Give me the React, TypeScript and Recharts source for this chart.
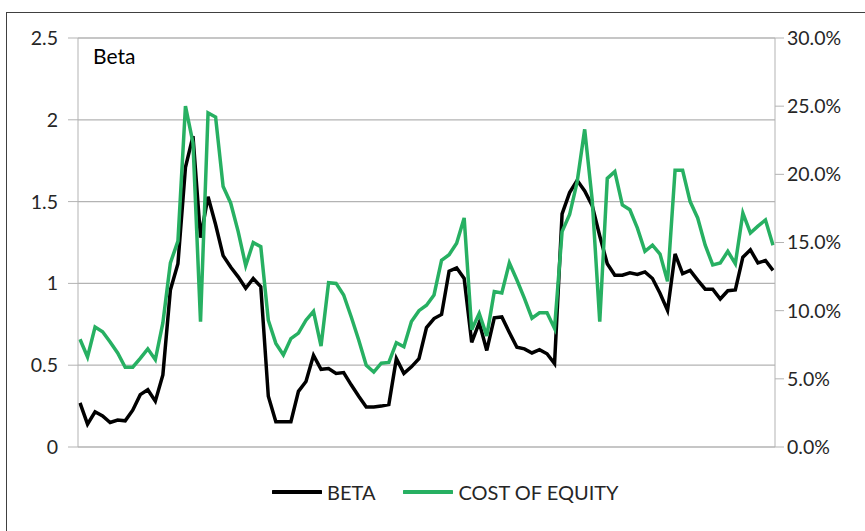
import { CartesianGrid, Legend, Line, LineChart, XAxis, YAxis } from 'recharts';

const beta = [
  0.27, 0.14, 0.215, 0.19, 0.15, 0.165, 0.16, 0.225, 0.32, 0.35,
  0.28, 0.44, 0.96, 1.12, 1.71, 1.9, 1.28, 1.53, 1.36, 1.17,
  1.1, 1.04, 0.97, 1.03, 0.98, 0.31, 0.155, 0.155, 0.155, 0.34,
  0.4, 0.56, 0.475, 0.48, 0.45, 0.455, 0.38, 0.31, 0.245, 0.245,
  0.25, 0.26, 0.54, 0.45, 0.49, 0.54, 0.73, 0.785, 0.81, 1.075,
  1.095, 1.03, 0.64, 0.76, 0.59, 0.79, 0.795, 0.7, 0.61, 0.6,
  0.575, 0.595, 0.57, 0.51, 1.425, 1.555, 1.63, 1.565, 1.475, 1.29,
  1.12, 1.05, 1.05, 1.065, 1.055, 1.07, 1.03, 0.94, 0.835, 1.18,
  1.06, 1.08, 1.02, 0.965, 0.965, 0.905, 0.955, 0.96, 1.16, 1.205,
  1.125, 1.14, 1.08,
];

// cost of equity, in percent
const costOfEquity = [
  7.9, 6.6, 8.8, 8.45, 7.7, 6.9, 5.85, 5.85, 6.5, 7.2,
  6.4, 9.1, 13.5, 15.1, 25.0, 22.3, 9.2, 24.5, 24.2, 19.1,
  17.9, 15.8, 13.3, 15.0, 14.7, 9.3, 7.6, 6.75, 7.95, 8.35,
  9.3, 9.95, 7.4, 12.05, 12.0, 11.15, 9.55, 7.85, 6.0, 5.5,
  6.15, 6.2, 7.65, 7.35, 9.2, 10.0, 10.4, 11.15, 13.7, 14.1,
  14.95, 16.8, 8.6, 9.8, 8.15, 11.4, 11.3, 13.5, 12.25, 10.9,
  9.45, 9.85, 9.85, 8.7, 15.8, 17.05, 19.45, 23.3, 18.1, 9.2,
  19.7, 20.2, 17.75, 17.4, 16.05, 14.35, 14.8, 14.15, 12.15, 20.3,
  20.3, 18.0, 16.8, 14.8, 13.35, 13.5, 14.35, 13.45, 17.15, 15.7,
  16.2, 16.65, 14.8,
];

const betaTicks = [0, 0.5, 1, 1.5, 2, 2.5];
const coeTicks = [0, 5, 10, 15, 20, 25, 30];

const BLACK = '#000000';
const GREEN = '#27b062';
const GRID = '#b3b3b3';
const TEXT = '#262626';
const FONT = 'Lato, "Open Sans", sans-serif';

const data = beta.map((b, i) => ({ i, beta: b, coe: costOfEquity[i] }));

function LegendContent() {
  const item = (color: string, label: string) => (
    <div style={{ display: 'flex', alignItems: 'center', marginRight: 28 }}>
      <svg width={50} height={6} style={{ marginRight: 5 }}>
        <line x1={1} y1={3} x2={49} y2={3} stroke={color} strokeWidth={4} strokeLinecap="round" />
      </svg>
      <span>{label}</span>
    </div>
  );
  return (
    <div style={{ display: 'flex', fontFamily: FONT, fontSize: 20, color: TEXT, whiteSpace: 'nowrap' }}>
      {item(BLACK, 'BETA')}
      {item(GREEN, 'COST OF EQUITY')}
    </div>
  );
}

export default function App() {
  return (
    <div style={{ position: 'absolute', left: 0, top: 0, width: 865, height: 531, background: '#fff', overflow: 'hidden' }}>
      <div style={{ position: 'absolute', left: 6, top: 12, width: 880, height: 560, border: '1px solid #404040' }} />
      <LineChart width={865} height={531} data={data} margin={{ top: 38, right: 0, bottom: 84, left: 0 }}>
        <CartesianGrid yAxisId="left" vertical={false} stroke={GRID} strokeWidth={1.3} />
        <XAxis dataKey="i" hide padding={{ left: 2, right: 2 }} />
        <YAxis
          yAxisId="left"
          width={78}
          domain={[0, 2.5]}
          ticks={betaTicks}
          interval={0}
          stroke={GRID}
          tickSize={10}
          tickMargin={10}
          tick={{ fill: TEXT, fontSize: 19.5, fontFamily: FONT }}
        />
        <YAxis
          yAxisId="right"
          orientation="right"
          width={90}
          domain={[0, 30]}
          ticks={coeTicks}
          interval={0}
          stroke={GRID}
          tickSize={9}
          tickMargin={3}
          tickFormatter={(v: number) => `${v.toFixed(1)}%`}
          tick={{ fill: TEXT, fontSize: 19.5, fontFamily: FONT }}
        />
        <Line
          yAxisId="left"
          type="linear"
          dataKey="beta"
          name="BETA"
          stroke={BLACK}
          strokeWidth={3.5}
          dot={false}
          isAnimationActive={false}
        />
        <Line
          yAxisId="right"
          type="linear"
          dataKey="coe"
          name="COST OF EQUITY"
          stroke={GREEN}
          strokeWidth={3.5}
          dot={false}
          isAnimationActive={false}
        />
        <Legend
          layout="horizontal"
          verticalAlign="middle"
          align="center"
          content={<LegendContent />}
          wrapperStyle={{ left: 272, top: 480, width: 440 }}
        />
      </LineChart>
      <div style={{ position: 'absolute', left: 93, top: 43, fontFamily: FONT, fontSize: 21, color: '#000' }}>Beta</div>
    </div>
  );
}
